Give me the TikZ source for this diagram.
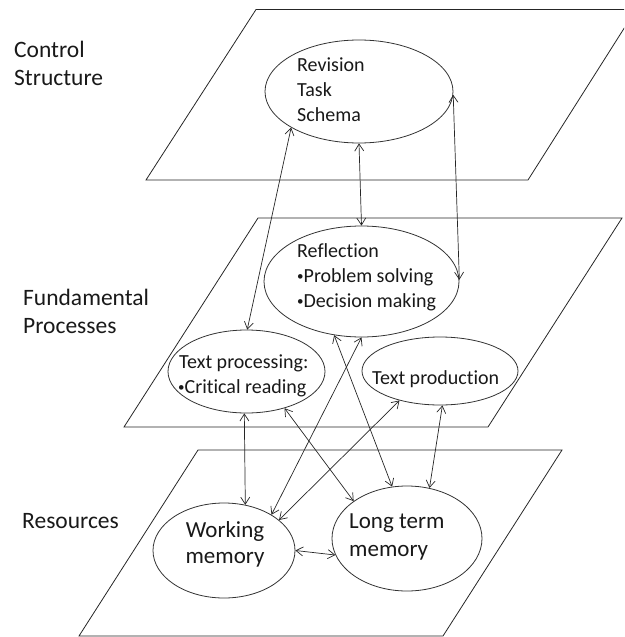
\documentclass[tikz,border=0pt]{standalone}
\usepackage{fontspec}
\setmainfont{Carlito}[Ligatures=NoCommon]
\usetikzlibrary{arrows.meta,shapes.geometric}
\newcommand{\smbul}{\raisebox{2pt}{\fontsize{13}{13}\selectfont •}}
\begin{document}
\begin{tikzpicture}[x=1pt,y=-1pt,
  plane/.style={draw=black!85, line width=0.8pt, line join=miter},
  oval/.style={ellipse, draw=black!80, line width=0.8pt, fill=white, inner sep=0pt},
  txt/.style={anchor=base west, inner sep=0pt, font=\fontsize{20}{24}\selectfont, text=black!90},
  bigtxt/.style={anchor=base, inner sep=0pt, font=\fontsize{23}{28}\selectfont, text=black!90},
  lbl/.style={anchor=base west, inner sep=0pt, font=\fontsize{23.5}{28}\selectfont, text=black!90},
  link/.style={draw=black!85, line width=0.7pt, {Straight Barb[length=7pt,width=9pt]}-{Straight Barb[length=7pt,width=9pt]}}
]
\clip (0,0) rectangle (624,637);
% planes
\draw[plane] (256,9.5) -- (636,9.5) -- (528,180) -- (146,180) -- cycle;
\draw[plane] (258,218) -- (622,218) -- (488,427) -- (124,427) -- cycle;
\draw[plane] (198,450) -- (562,450) -- (443,636) -- (79,636) -- cycle;
% layer labels
\node[lbl] (l1a) at (14,57) {Control};
\node[lbl] (l1b) at (14,85) {Structure};
\node[lbl] (l2a) at (23,305) {Fundamental};
\node[lbl] (l2b) at (23,333) {Processes};
\node[lbl] (l3) at (22,528) {Resources};
% ellipses
\node[oval, minimum width=188pt, minimum height=103pt] (top) at (359,91.5) {};
\node[oval, minimum width=195pt, minimum height=111pt] (refl) at (361.5,281.5) {};
\node[oval, minimum width=157pt, minimum height=83pt] (tp) at (246.5,371.5) {};
\node[oval, minimum width=156pt, minimum height=68pt] (tprod) at (440,371) {};
\node[oval, minimum width=142pt, minimum height=95pt] (wm) at (224,550.5) {};
\node[oval, minimum width=150pt, minimum height=105pt] (ltm) at (407,538.5) {};
% texts
\node[txt] (t1) at (297,71) {Revision};
\node[txt] (t2) at (297,96) {Task};
\node[txt] (t3) at (297,121) {Schema};
\node[txt] (r1) at (297,257) {Reflection};
\node[txt] (r2) at (297,282) {\smbul Problem solving};
\node[txt] (r3) at (297,307) {\smbul Decision making};
\node[txt] (p1) at (179,368) {Text processing:};
\node[txt] (p2) at (178,393) {\smbul Critical reading};
\node[txt] (q1) at (372,384) {Text production};
\node[bigtxt] (w1) at (225,537) {Working};
\node[bigtxt] (w2) at (225,563) {memory};
\node[bigtxt, anchor=base west] (m1) at (349,528) {Long term};
\node[bigtxt, anchor=base west] (m2) at (349,556) {memory};
% connectors
\draw[link] (top.208.6) -- (tp.89);
\draw[link] (top.south) -- (refl.north);
\draw[link] (top.-2) -- (refl.1);
\draw[link] (tp.-93) -- (wm.65);
\draw[link] (tp.-44.3) -- (ltm.145.9);
\draw[link] (refl.-90) -- (wm.37.8);
\draw[link] (refl.-117.6) -- (ltm.106.6);
\draw[link] (tprod.-144.7) -- (wm.29);
\draw[link] (tprod.-86.7) -- (ltm.66.7);
\draw[link] (wm.0) -- (ltm.193.4);
\end{tikzpicture}
\end{document}
